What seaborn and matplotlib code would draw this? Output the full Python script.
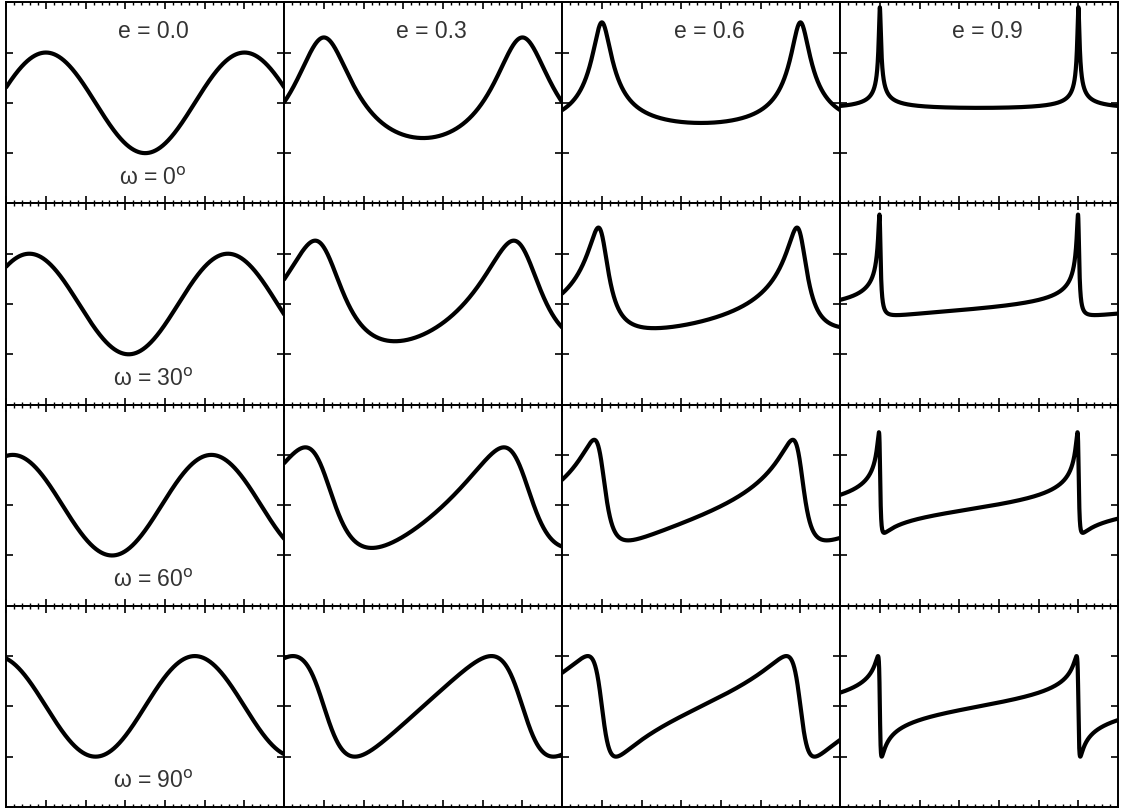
import numpy as np
import pandas as pd
import matplotlib
matplotlib.use("Agg")
import matplotlib.pyplot as plt
import seaborn as sns
from matplotlib.ticker import MultipleLocator

# panel parameters
ecc = [0.0, 0.3, 0.6, 0.9]
omega_deg = [0, 30, 60, 90]
e_labels = ["e = 0.0", "e = 0.3", "e = 0.6", "e = 0.9"]
w_labels = ["ω = 0$^{\\rm o}$", "ω = 30$^{\\rm o}$", "ω = 60$^{\\rm o}$", "ω = 90$^{\\rm o}$"]

phase = np.linspace(-0.2, 1.2, 6001)


def rv_curve(e, w_deg):
    # keplerian radial velocity, K = 1, periastron at phase 0
    M = 2 * np.pi * phase
    E = M.copy()
    for _ in range(60):
        E = E - (E - e * np.sin(E) - M) / (1 - e * np.cos(E))
    nu = 2 * np.arctan2(np.sqrt(1 + e) * np.sin(E / 2), np.sqrt(1 - e) * np.cos(E / 2))
    w = np.radians(w_deg)
    return np.cos(nu + w) + e * np.cos(w)


rows = []
for w in omega_deg:
    for e in ecc:
        rows.append(pd.DataFrame({"phase": phase, "v": rv_curve(e, w), "e": e, "omega": w}))
df = pd.concat(rows, ignore_index=True)

sns.set_style("white")
plt.rcParams["font.family"] = ["Liberation Sans", "DejaVu Sans"]

fig, axes = plt.subplots(4, 4, figsize=(11.26, 8.12), dpi=100, sharex=True, sharey=True)
fig.subplots_adjust(left=0.0055, right=0.993, top=0.996, bottom=0.005, wspace=0, hspace=0)

for i, w in enumerate(omega_deg):
    for j, e in enumerate(ecc):
        ax = axes[i, j]
        sub = df[(df["e"] == e) & (df["omega"] == w)]
        sns.lineplot(data=sub, x="phase", y="v", ax=ax, color="black", linewidth=3.0,
                     estimator=None, sort=False)
        ax.set_xlim(-0.2, 1.2)
        ax.set_ylim(-2, 2)
        ax.xaxis.set_major_locator(MultipleLocator(0.2))
        ax.xaxis.set_minor_locator(MultipleLocator(0.04))
        ax.yaxis.set_major_locator(MultipleLocator(1))
        ax.tick_params(which="both", direction="in", top=True, bottom=True, left=True, right=True,
                       labelbottom=False, labelleft=False, color="black")
        ax.tick_params(which="major", length=5, width=1.2)
        ax.tick_params(which="minor", length=2.5, width=1.0)
        ax.set_xlabel("")
        ax.set_ylabel("")
        for s in ax.spines.values():
            s.set_color("black")
            s.set_linewidth(1.4)
        if i == 0:
            ax.text(0.54, 1.44, e_labels[j], ha="center", va="center", fontsize=16.5, color="#333333")
        if j == 0:
            ax.text(0.54, -1.48, w_labels[i], ha="center", va="center", fontsize=16.5, color="#333333")

fig.savefig("out.png", dpi=100)
